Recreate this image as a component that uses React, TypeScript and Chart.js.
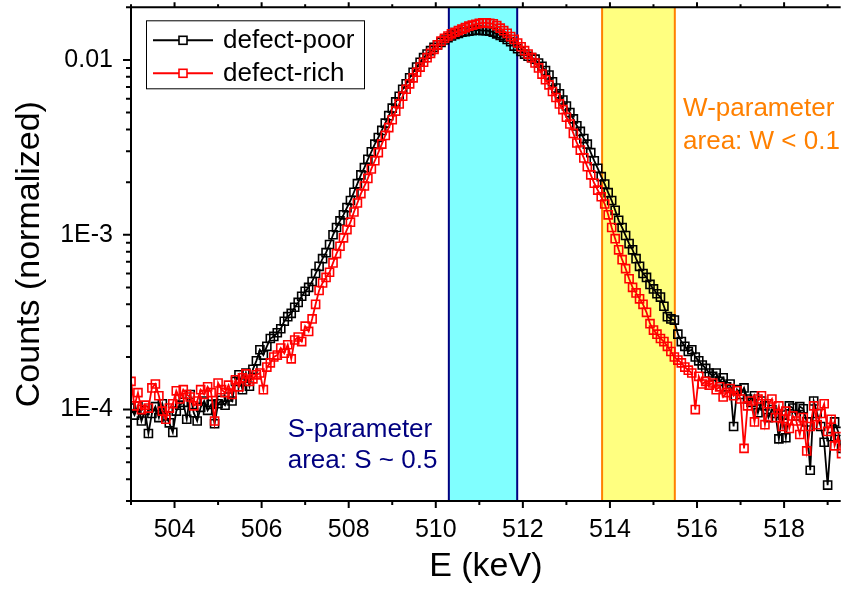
import React, { useEffect, useRef } from "react";
import { Chart, registerables } from "chart.js";

Chart.register(...registerables);

// Energy channels (keV): first channel and channel width
const ENERGY_START = 503.0;
const ENERGY_STEP = 0.08;

// Normalized counts, defect-poor sample (one value per channel)
const DEFECT_POOR = [
  1.02e-4, 9.3e-5, 1.05e-4, 8.6e-5, 9.9e-5, 7.3e-5, 9.5e-5, 1.04e-4, 9.0e-5, 1.08e-4,
  9.2e-5, 8.4e-5, 7.4e-5, 9.8e-5, 1.06e-4, 1.10e-4, 8.8e-5, 1.22e-4, 9.6e-5, 8.6e-5,
  1.03e-4, 1.12e-4, 9.9e-5, 1.07e-4, 8.3e-5, 1.08e-4, 1.13e-4, 1.06e-4, 1.18e-4, 1.12e-4,
  1.45e-4, 1.58e-4, 1.30e-4, 1.62e-4, 1.36e-4, 1.70e-4, 1.90e-4, 2.20e-4, 2.05e-4, 2.30e-4,
  2.55e-4, 2.62e-4, 2.75e-4, 2.90e-4, 3.20e-4, 3.40e-4, 3.55e-4, 3.85e-4, 4.10e-4, 4.45e-4,
  4.75e-4, 5.0e-4, 5.4e-4, 6.0e-4, 6.6e-4, 7.3e-4, 7.9e-4, 8.8e-4, 1.0e-3, 1.1e-3,
  1.2e-3, 1.3e-3, 1.43e-3, 1.57e-3, 1.75e-3, 1.96e-3, 2.2e-3, 2.42e-3, 2.7e-3, 2.98e-3,
  3.3e-3, 3.6e-3, 3.95e-3, 4.35e-3, 4.8e-3, 5.3e-3, 5.75e-3, 6.2e-3, 6.8e-3, 7.3e-3,
  7.9e-3, 8.5e-3, 9.1e-3, 9.7e-3, 1.03e-2, 1.08e-2, 1.13e-2, 1.18e-2, 1.22e-2, 1.26e-2,
  1.30e-2, 1.34e-2, 1.37e-2, 1.40e-2, 1.42e-2, 1.44e-2, 1.45e-2, 1.46e-2, 1.47e-2, 1.48e-2,
  1.48e-2, 1.47e-2, 1.47e-2, 1.46e-2, 1.44e-2, 1.41e-2, 1.38e-2, 1.35e-2, 1.31e-2, 1.27e-2,
  1.20e-2, 1.16e-2, 1.12e-2, 1.08e-2, 1.05e-2, 1.03e-2, 1.01e-2, 9.6e-3, 9.2e-3, 8.7e-3,
  8.2e-3, 7.5e-3, 6.9e-3, 6.4e-3, 5.9e-3, 5.45e-3, 5.0e-3, 4.6e-3, 4.2e-3, 3.9e-3,
  3.55e-3, 3.3e-3, 2.95e-3, 2.65e-3, 2.4e-3, 2.15e-3, 1.95e-3, 1.74e-3, 1.57e-3, 1.38e-3,
  1.21e-3, 1.1e-3, 9.9e-4, 8.9e-4, 8.2e-4, 7.3e-4, 6.6e-4, 6.0e-4, 5.7e-4, 5.2e-4,
  4.9e-4, 4.6e-4, 4.4e-4, 3.9e-4, 3.4e-4, 3.3e-4, 3.25e-4, 2.7e-4, 2.45e-4, 2.3e-4,
  2.15e-4, 2.2e-4, 2.0e-4, 1.9e-4, 1.8e-4, 1.72e-4, 1.62e-4, 1.55e-4, 1.62e-4, 1.45e-4,
  1.52e-4, 1.35e-4, 1.4e-4, 8.0e-5, 1.3e-4, 1.22e-4, 1.33e-4, 1.15e-4, 1.1e-4, 1.2e-4,
  9.6e-5, 1.12e-4, 1.05e-4, 9.0e-5, 1.0e-4, 9.5e-5, 6.8e-5, 9.3e-5, 6.9e-5, 1.05e-4,
  1.02e-4, 9.2e-5, 1.04e-4, 1.01e-4, 8.5e-5, 4.5e-5, 1.12e-4, 9.5e-5, 8.0e-5, 6.5e-5,
  3.7e-5, 7.0e-5, 8.5e-5, 7.5e-5, 6.0e-5,
];

// Normalized counts, defect-rich sample
const DEFECT_RICH = [
  1.45e-4, 1.05e-4, 1.25e-4, 1.0e-4, 1.06e-4, 1.02e-4, 1.33e-4, 1.4e-4, 1.2e-4, 9.8e-5,
  8.8e-5, 1.02e-4, 1.08e-4, 1.28e-4, 1.15e-4, 1.3e-4, 1.22e-4, 1.18e-4, 1.05e-4, 1.12e-4,
  1.3e-4, 1.22e-4, 1.35e-4, 1.25e-4, 8.6e-5, 1.42e-4, 1.3e-4, 1.25e-4, 1.38e-4, 1.22e-4,
  1.48e-4, 1.35e-4, 1.52e-4, 1.6e-4, 1.45e-4, 1.5e-4, 1.58e-4, 1.62e-4, 1.3e-4, 1.75e-4,
  1.85e-4, 2.0e-4, 2.05e-4, 2.25e-4, 2.1e-4, 2.35e-4, 1.95e-4, 2.5e-4, 2.6e-4, 2.45e-4,
  3.0e-4, 2.8e-4, 3.3e-4, 4.0e-4, 4.8e-4, 5.3e-4, 5.7e-4, 6.1e-4, 6.9e-4, 7.8e-4,
  8.6e-4, 9.6e-4, 1.07e-3, 1.18e-3, 1.35e-3, 1.52e-3, 1.72e-3, 1.9e-3, 2.1e-3, 2.38e-3,
  2.65e-3, 2.95e-3, 3.3e-3, 3.7e-3, 4.1e-3, 4.55e-3, 5.1e-3, 5.6e-3, 6.2e-3, 6.8e-3,
  7.3e-3, 7.9e-3, 8.5e-3, 9.1e-3, 9.7e-3, 1.03e-2, 1.09e-2, 1.15e-2, 1.22e-2, 1.28e-2,
  1.33e-2, 1.37e-2, 1.41e-2, 1.44e-2, 1.47e-2, 1.5e-2, 1.53e-2, 1.56e-2, 1.58e-2, 1.6e-2,
  1.62e-2, 1.63e-2, 1.63e-2, 1.62e-2, 1.61e-2, 1.57e-2, 1.52e-2, 1.47e-2, 1.42e-2, 1.36e-2,
  1.31e-2, 1.25e-2, 1.19e-2, 1.13e-2, 1.08e-2, 1.03e-2, 9.6e-3, 9.0e-3, 8.3e-3, 7.7e-3,
  7.2e-3, 6.6e-3, 6.1e-3, 5.6e-3, 5.2e-3, 4.7e-3, 4.3e-3, 3.8e-3, 3.35e-3, 3.05e-3,
  2.75e-3, 2.45e-3, 2.2e-3, 1.97e-3, 1.8e-3, 1.65e-3, 1.5e-3, 1.3e-3, 1.1e-3, 9.5e-4,
  8.2e-4, 7.2e-4, 6.4e-4, 5.6e-4, 5.0e-4, 4.65e-4, 4.3e-4, 4.0e-4, 3.6e-4, 3.1e-4,
  2.85e-4, 2.7e-4, 2.55e-4, 2.45e-4, 2.3e-4, 2.15e-4, 2.0e-4, 1.92e-4, 1.85e-4, 1.75e-4,
  1.68e-4, 1.62e-4, 1.0e-4, 1.55e-4, 1.4e-4, 1.45e-4, 1.38e-4, 1.42e-4, 1.3e-4, 1.35e-4,
  1.18e-4, 1.25e-4, 1.32e-4, 1.2e-4, 1.28e-4, 1.15e-4, 6.0e-5, 1.05e-4, 1.12e-4, 8.5e-5,
  1.15e-4, 1.2e-4, 8.2e-5, 1.08e-4, 1.15e-4, 9.0e-5, 1.05e-4, 8.0e-5, 9.8e-5, 7.8e-5,
  9.2e-5, 8.6e-5, 7.2e-5, 9.0e-5, 5.8e-5, 8.0e-5, 1.05e-4, 8.2e-5, 9.5e-5, 1.08e-4,
  7.5e-5, 8.8e-5, 6.2e-5, 7.0e-5, 5.6e-5,
];

const SERIES_LABELS = ["defect-poor", "defect-rich"];
const SERIES_COLORS = ["#000000", "#ff0000"];

// Axes
const X_MIN = 503;
const X_MAX = 519.3;
const Y_MIN = 3e-5;
const Y_MAX = 0.02;
const X_TICKS = [504, 506, 508, 510, 512, 514, 516, 518];
const X_MINOR_TICKS = [503, 505, 507, 509, 511, 513, 515, 517, 519];
const Y_TICK_VALUES = [1e-4, 1e-3, 1e-2];
const Y_TICK_LABELS = ["1E-4", "1E-3", "0.01"];
const Y_MINOR_DECADES = [1e-5, 1e-4, 1e-3, 1e-2];
const Y_MINOR_MULTIPLIERS = [2, 3, 4, 5, 6, 7, 8, 9];
const X_TITLE = "E (keV)";
const Y_TITLE = "Counts (normalized)";

// Parameter windows (keV) and their notes
const S_BAND = [510.3, 511.87];
const W_BAND = [513.82, 515.49];
const S_TEXT = ["S-parameter", "area: S ~ 0.5"];
const W_TEXT = ["W-parameter", "area: W < 0.1"];
// text anchors in data coordinates: [x, baseline line1, baseline line2]
const S_TEXT_ANCHOR = [506.6, 6.95e-5, 4.62e-5];
const W_TEXT_ANCHOR = [515.68, 4.77e-3, 3.1e-3];

const FONT = "'Liberation Sans', Arial, Helvetica, sans-serif";
const NAVY = "#000080";
const ORANGE = "#ff8000";

const overlayPlugin = {
  id: "overlay",
  beforeDatasetsDraw(chart: any) {
    const { ctx, chartArea: a, scales } = chart;
    const x = scales.x;
    ctx.save();
    const band = (b: number[], fill: string, edge: string) => {
      const x0 = x.getPixelForValue(b[0]);
      const x1 = x.getPixelForValue(b[1]);
      ctx.fillStyle = fill;
      ctx.fillRect(x0, a.top, x1 - x0, a.bottom - a.top);
      ctx.strokeStyle = edge;
      ctx.lineWidth = 2;
      ctx.beginPath();
      ctx.moveTo(x0, a.top);
      ctx.lineTo(x0, a.bottom);
      ctx.moveTo(x1, a.top);
      ctx.lineTo(x1, a.bottom);
      ctx.stroke();
    };
    band(S_BAND, "#80ffff", NAVY);
    band(W_BAND, "#ffff80", ORANGE);
    ctx.restore();
  },
  afterDatasetsDraw(chart: any) {
    const { ctx, chartArea: a, scales } = chart;
    const x = scales.x;
    const y = scales.y;
    ctx.save();

    // notes
    ctx.font = `26px ${FONT}`;
    ctx.textAlign = "left";
    ctx.textBaseline = "alphabetic";
    ctx.fillStyle = NAVY;
    ctx.fillText(S_TEXT[0], x.getPixelForValue(S_TEXT_ANCHOR[0]), y.getPixelForValue(S_TEXT_ANCHOR[1]));
    ctx.fillText(S_TEXT[1], x.getPixelForValue(S_TEXT_ANCHOR[0]), y.getPixelForValue(S_TEXT_ANCHOR[2]));
    ctx.fillStyle = ORANGE;
    ctx.fillText(W_TEXT[0], x.getPixelForValue(W_TEXT_ANCHOR[0]), y.getPixelForValue(W_TEXT_ANCHOR[1]));
    ctx.fillText(W_TEXT[1], x.getPixelForValue(W_TEXT_ANCHOR[0]), y.getPixelForValue(W_TEXT_ANCHOR[2]));

    // frame
    ctx.strokeStyle = "#000";
    ctx.lineWidth = 2;
    ctx.beginPath();
    ctx.moveTo(a.left, a.top);
    ctx.lineTo(a.right, a.top);
    ctx.moveTo(a.left, a.top);
    ctx.lineTo(a.left, a.bottom);
    ctx.moveTo(a.left, a.bottom);
    ctx.lineTo(a.right, a.bottom);
    ctx.stroke();

    // tick marks
    ctx.beginPath();
    X_TICKS.forEach((v) => {
      const p = x.getPixelForValue(v);
      ctx.moveTo(p, a.bottom);
      ctx.lineTo(p, a.bottom + 7);
      ctx.moveTo(p, a.top);
      ctx.lineTo(p, a.top - 5);
    });
    X_MINOR_TICKS.forEach((v) => {
      const p = x.getPixelForValue(v);
      ctx.moveTo(p, a.bottom);
      ctx.lineTo(p, a.bottom + 4);
      ctx.moveTo(p, a.top);
      ctx.lineTo(p, a.top - 3);
    });
    Y_TICK_VALUES.forEach((v) => {
      const p = y.getPixelForValue(v);
      ctx.moveTo(a.left, p);
      ctx.lineTo(a.left - 8, p);
    });
    Y_MINOR_DECADES.forEach((d) => {
      Y_MINOR_MULTIPLIERS.forEach((m) => {
        const v = m * d;
        if (v < Y_MIN * 0.999 || v > Y_MAX * 1.001) return;
        const p = y.getPixelForValue(v);
        ctx.moveTo(a.left, p);
        ctx.lineTo(a.left - 5, p);
      });
    });
    ctx.stroke();

    // legend
    const lx = a.left + 15;
    const ly = a.top + 13;
    ctx.fillStyle = "#fff";
    ctx.fillRect(lx, ly, 218, 68);
    ctx.strokeStyle = "#000";
    ctx.lineWidth = 1;
    ctx.strokeRect(lx + 0.5, ly + 0.5, 218, 68);
    ctx.font = `26px ${FONT}`;
    ctx.textBaseline = "middle";
    chart.data.datasets.forEach((ds: any, i: number) => {
      const ry = ly + 20 + i * 33;
      ctx.strokeStyle = ds.borderColor;
      ctx.lineWidth = 2;
      ctx.beginPath();
      ctx.moveTo(lx + 7, ry);
      ctx.lineTo(lx + 67, ry);
      ctx.stroke();
      ctx.fillStyle = "#fff";
      ctx.fillRect(lx + 33, ry - 4, 8, 8);
      ctx.lineWidth = 1.6;
      ctx.strokeRect(lx + 33, ry - 4, 8, 8);
      ctx.fillStyle = "#000";
      ctx.fillText(ds.label, lx + 77, ry + 1);
    });

    ctx.restore();
  },
};

export default function App() {
  const ref = useRef<HTMLCanvasElement | null>(null);

  useEffect(() => {
    if (!ref.current) return;
    const toPoints = (arr: number[]) =>
      arr.map((v, i) => ({ x: +(ENERGY_START + i * ENERGY_STEP).toFixed(2), y: v }));
    const series = [DEFECT_POOR, DEFECT_RICH];
    const chart = new Chart(ref.current, {
      type: "line",
      data: {
        datasets: series.map((arr, i) => ({
          label: SERIES_LABELS[i],
          data: toPoints(arr),
          borderColor: SERIES_COLORS[i],
          borderWidth: 1.8,
          pointStyle: "rect",
          pointRadius: 5.7,
          pointBorderWidth: 1.6,
          pointBorderColor: SERIES_COLORS[i],
          pointBackgroundColor: "rgba(0,0,0,0)",
          fill: false,
          tension: 0,
          order: i === 0 ? 2 : 1,
        })),
      },
      options: {
        responsive: false,
        animation: false,
        events: [],
        layout: { padding: { top: 6, right: 0, bottom: 0, left: 0 } },
        plugins: { legend: { display: false }, tooltip: { enabled: false } },
        scales: {
          x: {
            type: "linear",
            min: X_MIN,
            max: X_MAX,
            grid: { display: false, drawTicks: false },
            border: { display: false },
            afterBuildTicks: (s: any) => {
              s.ticks = X_TICKS.map((v) => ({ value: v }));
            },
            ticks: {
              font: { family: FONT, size: 25 },
              color: "#000",
              padding: 14,
              maxRotation: 0,
              autoSkip: false,
              callback: (v: any) => String(v),
            },
            title: {
              display: true,
              text: X_TITLE,
              color: "#000",
              font: { family: FONT, size: 34 },
              padding: { top: 0, bottom: 3 },
            },
            afterFit: (s: any) => {
              s.height = 89;
              s.paddingLeft = 0;
              s.paddingRight = 0;
            },
          },
          y: {
            type: "logarithmic",
            min: Y_MIN,
            max: Y_MAX,
            grid: { display: false, drawTicks: false },
            border: { display: false },
            afterBuildTicks: (s: any) => {
              s.ticks = Y_TICK_VALUES.map((v) => ({ value: v }));
            },
            ticks: {
              font: { family: FONT, size: 25 },
              color: "#000",
              padding: 18,
              autoSkip: false,
              callback: (v: any) => {
                const idx = Y_TICK_VALUES.findIndex(
                  (t) => Math.abs(Math.log10(t) - Math.log10(Number(v))) < 1e-6
                );
                return idx >= 0 ? Y_TICK_LABELS[idx] : "";
              },
            },
            title: {
              display: true,
              text: Y_TITLE,
              color: "#000",
              font: { family: FONT, size: 34 },
              padding: { top: 9, bottom: 0 },
            },
            afterFit: (s: any) => {
              s.width = 131;
              s.paddingTop = 0;
              s.paddingBottom = 0;
            },
          },
        },
      },
      plugins: [overlayPlugin],
    } as any);
    return () => chart.destroy();
  }, []);

  return (
    <div style={{ position: "absolute", left: 0, top: 0, width: 848, height: 590, background: "#fff" }}>
      <canvas ref={ref} width={848} height={590} style={{ display: "block" }} />
    </div>
  );
}
